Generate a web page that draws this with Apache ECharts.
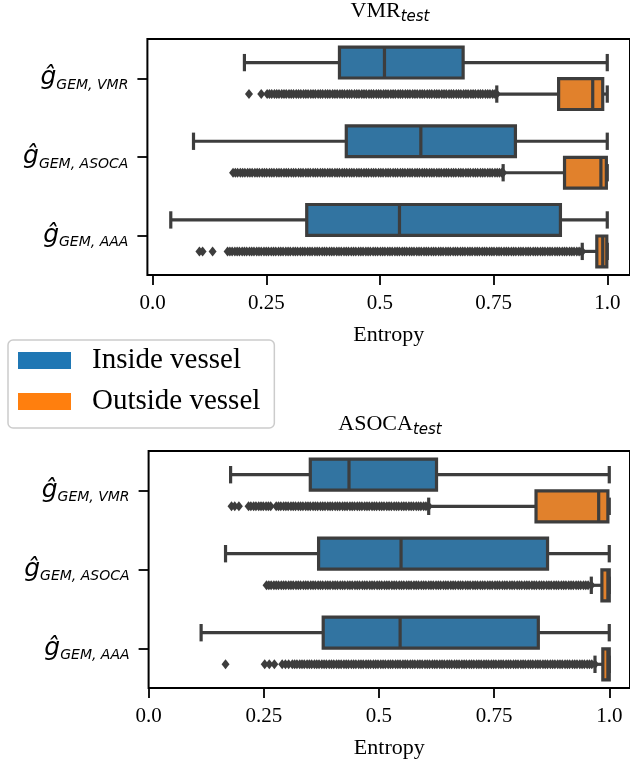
<!DOCTYPE html>
<html>
<head>
<meta charset="utf-8">
<script src="https://cdn.jsdelivr.net/npm/echarts@6/dist/echarts.min.js"></script>
<style>
  html, body { margin: 0; padding: 0; background: #fff; }
  #chart { width: 630px; height: 761px; }
</style>
</head>
<body>
<div id="chart"></div>
<script>
// 类别 / 刻度
const categories = ['VMR', 'ASOCA', 'AAA'];
const tickValues = [0, 0.25, 0.5, 0.75, 1];
const tickLabels = ['0.0', '0.25', '0.5', '0.75', '1.0'];
const legendNames = ['Inside vessel', 'Outside vessel'];

// 箱线统计 [下须, Q1, 中位数, Q3, 上须]
const vmrInside = [
  [0.202, 0.411, 0.510, 0.683, 1.0],
  [0.090, 0.426, 0.590, 0.798, 1.0],
  [0.040, 0.339, 0.543, 0.897, 1.0]
];
const vmrOutside = [
  [0.757, 0.893, 0.968, 0.990, 1.0],
  [0.771, 0.906, 0.986, 0.998, 1.0],
  [0.945, 0.977, 0.990, 0.999, 1.0]
];
const asocaInside = [
  [0.178, 0.351, 0.435, 0.625, 1.0],
  [0.167, 0.369, 0.548, 0.866, 1.0],
  [0.114, 0.379, 0.546, 0.846, 1.0]
];
const asocaOutside = [
  [0.608, 0.841, 0.977, 0.997, 1.0],
  [0.961, 0.984, 0.997, 1.0, 1.0],
  [0.969, 0.986, 0.997, 1.0, 1.0]
];

// 离群点 (千分之一)
const vmrOutVMR = [212,239,252,257,262,268,273,278,284,289,294,300,305,310,316,321,326,332,337,342,348,353,358,364,369,374,380,385,390,396,401,406,412,417,422,428,433,438,444,449,454,460,465,470,476,481,486,492,497,502,508,513,518,524,529,534,540,545,550,556,561,566,572,577,582,588,593,598,604,609,614,620,625,630,636,641,646,652,657,662,668,673,678,684,689,694,700,705,710,716,721,726,732,737,742,748,753,757];
const vmrOutASOCA = [177,182,187,193,198,203,209,214,219,225,230,235,241,246,251,257,262,267,273,278,283,289,294,299,305,310,315,321,326,331,337,342,347,353,358,363,369,374,379,385,390,395,401,406,411,417,422,427,433,438,443,449,454,459,465,470,475,481,486,491,497,502,507,513,518,523,529,534,539,545,550,555,561,566,571,577,582,587,593,598,603,609,614,619,625,630,635,641,646,651,657,662,667,673,678,683,689,694,699,705,710,715,721,726,731,737,742,747,753,758,763,768,771];
const vmrOutAAA = [103,110,132,165,170,175,181,186,191,197,202,207,213,218,223,229,234,239,245,250,255,261,266,271,277,282,287,293,298,303,309,314,319,325,330,335,341,346,351,357,362,367,373,378,383,389,394,399,405,410,415,421,426,431,437,442,447,453,458,463,469,474,479,485,490,495,501,506,511,517,522,527,533,538,543,549,554,559,565,570,575,581,586,591,597,602,607,613,618,623,629,634,639,645,650,655,661,666,671,677,682,687,693,698,703,709,714,719,725,730,735,741,746,751,757,762,767,773,778,783,789,794,799,805,810,815,821,826,831,837,842,847,853,858,863,869,874,879,885,890,895,901,906,911,917,922,927,933,938,943,945];
const asocaOutVMR = [180,187,196,217,222,228,233,239,244,249,255,260,265,277,282,287,293,298,303,309,314,319,325,330,335,341,346,351,357,362,367,373,378,383,389,394,399,405,410,415,421,426,431,437,442,447,453,458,463,469,474,479,485,490,495,501,506,511,517,522,527,533,538,543,549,554,559,565,570,575,581,586,591,597,602,608];
const asocaOutASOCA = [256,261,266,272,277,282,288,293,298,304,309,314,320,325,330,336,341,346,352,357,362,368,373,378,384,389,394,400,405,410,416,421,426,432,437,442,448,453,458,464,469,474,480,485,490,496,501,506,512,517,522,528,533,538,544,549,554,560,565,570,576,581,586,592,597,602,608,613,618,624,629,634,640,645,650,656,661,666,672,677,682,688,693,698,704,709,714,720,725,730,736,741,746,752,757,762,768,773,778,784,789,794,800,805,810,816,821,826,832,837,842,848,853,858,864,869,874,880,885,890,896,901,906,912,917,922,928,933,938,944,949,954,961];
const asocaOutAAA = [167,252,262,273,290,297,304,312,317,322,328,333,338,344,349,354,360,365,370,376,381,386,392,397,402,408,413,418,424,429,434,440,445,450,456,461,466,472,477,482,488,493,498,504,509,514,520,525,530,536,541,546,552,557,562,568,573,578,584,589,594,600,605,610,616,621,626,632,637,642,648,653,658,664,669,674,680,685,690,696,701,706,712,717,722,728,733,738,744,749,754,760,765,770,776,781,786,792,797,802,808,813,818,824,829,834,840,845,850,856,861,866,872,877,882,888,893,898,904,909,914,920,925,930,936,941,946,952,957,962,969];

(function () {
  const myChart = echarts.init(document.getElementById('chart'), null, { renderer: 'canvas' });

  const EDGE = '#3d3d3d';
  const LW = 3.2;
  const BOX_HALF = 0.196;
  const CAP_HALF = 0.11;
  const SERIF = '"Liberation Serif", "DejaVu Serif", serif';
  const SANS = '"DejaVu Sans", sans-serif';

  // 箱子: 自定义系列
  function boxRenderer(shift) {
    return function (params, api) {
      const c = api.value(0) + shift;
      const h = api.size([0, BOX_HALF], [0.5, c])[1];
      const capH = api.size([0, CAP_HALF], [0.5, c])[1];
      const p = [1, 2, 3, 4, 5].map(d => api.coord([api.value(d), c]));
      const y = p[0][1];
      const line = (x1, y1, x2, y2) => ({
        type: 'line', shape: { x1, y1, x2, y2 },
        style: { stroke: EDGE, lineWidth: LW }
      });
      return {
        type: 'group',
        children: [
          line(p[0][0], y, p[1][0], y),
          line(p[3][0], y, p[4][0], y),
          line(p[0][0], y - capH, p[0][0], y + capH),
          line(p[4][0], y - capH, p[4][0], y + capH),
          {
            type: 'rect',
            shape: { x: p[1][0], y: y - h, width: p[3][0] - p[1][0], height: 2 * h },
            style: { fill: api.visual('color'), stroke: EDGE, lineWidth: LW }
          },
          line(p[2][0], y - h, p[2][0], y + h)
        ]
      };
    };
  }

  function boxSeries(name, stats, shift, color, gi) {
    return {
      name: name,
      type: 'custom',
      xAxisIndex: gi,
      yAxisIndex: gi,
      renderItem: boxRenderer(shift),
      itemStyle: { color: color },
      encode: { x: [1, 2, 3, 4, 5], y: 0 },
      data: stats.map((s, i) => [i].concat(s)),
      z: 3,
      silent: true
    };
  }

  function outlierSeries(lists, gi) {
    const data = [];
    lists.forEach((arr, i) => arr.forEach(v => data.push([v / 1000, i + 0.2])));
    return {
      type: 'scatter',
      xAxisIndex: gi,
      yAxisIndex: gi,
      symbol: 'diamond',
      symbolSize: [8, 10],
      itemStyle: { color: EDGE, opacity: 1 },
      data: data,
      z: 2,
      silent: true
    };
  }

  function xAxisCfg(gi, min, max) {
    return {
      type: 'value', gridIndex: gi, min: min, max: max,
      axisLine: { show: false, onZero: false },
      splitLine: { show: false },
      axisTick: { show: true, length: 10, customValues: tickValues, lineStyle: { color: '#000', width: 1.8 } },
      axisLabel: {
        customValues: tickValues, margin: 18,
        fontFamily: SERIF, fontSize: 21, color: '#000',
        formatter: function (v) {
          let k = 0;
          tickValues.forEach((t, i) => { if (Math.abs(t - v) < Math.abs(tickValues[k] - v)) k = i; });
          return tickLabels[k];
        }
      },
      name: 'Entropy', nameLocation: 'middle', nameGap: 49,
      nameTextStyle: { fontFamily: SERIF, fontSize: 22, color: '#000' }
    };
  }

  function yAxisCfg(gi) {
    return {
      type: 'value', gridIndex: gi, min: -0.5, max: 2.5, inverse: true,
      axisLine: { show: false, onZero: false },
      splitLine: { show: false },
      axisTick: { show: true, length: 10, customValues: [0, 1, 2], lineStyle: { color: '#000', width: 1.8 } },
      axisLabel: {
        customValues: [0, 1, 2], margin: 19,
        formatter: function (v) {
          return '{g|ĝ}{s|GEM, ' + categories[Math.round(v)] + '}';
        },
        rich: {
          g: { fontFamily: SANS, fontStyle: 'italic', fontSize: 25, lineHeight: 28, padding: [0, 0, 2, 0], verticalAlign: 'bottom', color: '#000' },
          s: { fontFamily: SANS, fontStyle: 'italic', fontSize: 14, lineHeight: 14, verticalAlign: 'bottom', color: '#000' }
        }
      }
    };
  }

  function titleText(x, y, main) {
    return {
      type: 'text', x: x, y: y,
      style: {
        text: '{a|' + main + '}{b|test}',
        align: 'center', verticalAlign: 'top',
        rich: {
          a: { fontFamily: SERIF, fontSize: 22, lineHeight: 25, padding: [0, 0, 3, 0], verticalAlign: 'bottom', fill: '#000' },
          b: { fontFamily: SANS, fontStyle: 'italic', fontSize: 15, lineHeight: 15, verticalAlign: 'bottom', fill: '#000' }
        }
      }
    };
  }

  const option = {
    animation: false,
    backgroundColor: '#fff',
    grid: [
      { left: 147.4, top: 39, width: 486, height: 236, show: true, borderColor: '#000', borderWidth: 2, backgroundColor: 'transparent' },
      { left: 148.6, top: 451, width: 484, height: 237, show: true, borderColor: '#000', borderWidth: 2, backgroundColor: 'transparent' }
    ],
    xAxis: [xAxisCfg(0, -0.0114, 1.050), xAxisCfg(1, 0, 1.045)],
    yAxis: [yAxisCfg(0), yAxisCfg(1)],
    legend: {
      left: 8, top: 340, orient: 'vertical',
      selectedMode: false,
      data: [
        { name: legendNames[0], itemStyle: { color: '#1f77b4', borderWidth: 0 } },
        { name: legendNames[1], itemStyle: { color: '#ff7f0e', borderWidth: 0 } }
      ],
      icon: 'rect', itemWidth: 53, itemHeight: 17, itemGap: 12,
      textStyle: { fontFamily: SERIF, fontSize: 29, color: '#000', padding: [0, 0, 0, 16] },
      padding: [6, 14, 12, 10],
      borderColor: '#cccccc', borderWidth: 1.5, borderRadius: 5,
      backgroundColor: '#ffffff'
    },
    graphic: [
      titleText(390, 0, 'VMR'),
      titleText(390, 413, 'ASOCA')
    ],
    series: [
      boxSeries(legendNames[0], vmrInside, -0.2, '#3274a1', 0),
      boxSeries(legendNames[1], vmrOutside, 0.2, '#e1812c', 0),
      outlierSeries([vmrOutVMR, vmrOutASOCA, vmrOutAAA], 0),
      boxSeries(legendNames[0], asocaInside, -0.2, '#3274a1', 1),
      boxSeries(legendNames[1], asocaOutside, 0.2, '#e1812c', 1),
      outlierSeries([asocaOutVMR, asocaOutASOCA, asocaOutAAA], 1)
    ]
  };

  myChart.setOption(option);
  window.addEventListener('resize', function () {
    myChart.resize();
  });
})();
</script>
</body>
</html>
